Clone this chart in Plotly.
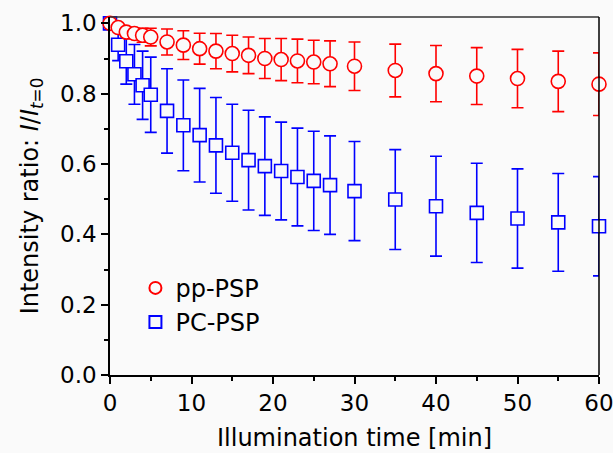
import plotly.graph_objects as go

t_vals = [0, 1, 2, 3, 4, 5, 7, 9, 11, 13, 15, 17, 19, 21, 23, 25, 27, 30, 35, 40, 45, 50, 55, 60]

pp_ratio = [1.000, 0.988, 0.975, 0.971, 0.966, 0.961, 0.947, 0.938, 0.928, 0.921, 0.914, 0.909,
            0.900, 0.897, 0.893, 0.890, 0.885, 0.878, 0.866, 0.857, 0.850, 0.843, 0.835, 0.827]
pp_err = [0.000, 0.006, 0.010, 0.015, 0.020, 0.025, 0.037, 0.041, 0.044, 0.050, 0.052, 0.052,
          0.057, 0.060, 0.062, 0.062, 0.065, 0.069, 0.075, 0.080, 0.081, 0.083, 0.086, 0.089]

pc_ratio = [1.000, 0.939, 0.892, 0.855, 0.824, 0.797, 0.751, 0.710, 0.682, 0.653, 0.632, 0.611,
            0.594, 0.580, 0.563, 0.552, 0.540, 0.523, 0.499, 0.480, 0.461, 0.445, 0.434, 0.423]
pc_err = [0.000, 0.045, 0.065, 0.085, 0.097, 0.107, 0.120, 0.129, 0.133, 0.136, 0.138, 0.142,
          0.140, 0.139, 0.139, 0.141, 0.140, 0.141, 0.142, 0.142, 0.141, 0.141, 0.139, 0.141]

BG = "#fafafa"
FONT = "DejaVu Sans"

fig = go.Figure()
fig.add_trace(go.Scatter(
    x=t_vals, y=pc_ratio, mode="markers", name="PC-PSP", legendrank=2,
    marker=dict(symbol="square", size=13, color=BG, line=dict(color="#0000ff", width=1.6)),
    error_y=dict(type="data", array=pc_err, visible=True, color="#0000ff", thickness=1.6, width=6),
    cliponaxis=False,
))
fig.add_trace(go.Scatter(
    x=t_vals, y=pp_ratio, mode="markers", name="pp-PSP", legendrank=1,
    marker=dict(symbol="circle", size=14, color=BG, line=dict(color="#ff0000", width=1.6)),
    error_y=dict(type="data", array=pp_err, visible=True, color="#ff0000", thickness=1.6, width=6),
    cliponaxis=False,
))

fig.update_layout(
    width=613, height=453,
    margin=dict(l=110, r=14, t=17, b=78, autoexpand=False),
    paper_bgcolor=BG, plot_bgcolor=BG,
    font=dict(family=FONT, size=21, color="black"),
    showlegend=True,
    legend=dict(x=0.052, y=0.305, xanchor="left", yanchor="top", bgcolor="rgba(0,0,0,0)",
                font=dict(size=24), itemsizing="constant", tracegroupgap=0),
    xaxis=dict(
        range=[0, 60], tick0=0, dtick=10, ticks="outside", ticklen=7, tickwidth=1.5,
        tickcolor="black", showline=True, linecolor="black", linewidth=1.5, mirror=False,
        showgrid=False, zeroline=False, tickfont=dict(size=23), ticklabeloverflow="allow",
        automargin=False,
        minor=dict(dtick=5, ticks="outside", ticklen=4, tickwidth=1.5, tickcolor="black"),
        title=dict(text="Illumination time [min]", standoff=14, font=dict(size=24)),
    ),
    yaxis=dict(
        range=[0, 1.018], tick0=0, dtick=0.2, tickformat=".1f", ticks="outside", ticklen=7,
        tickwidth=1.5, tickcolor="black", showline=True, linecolor="black", linewidth=1.5,
        showgrid=False, zeroline=False, tickfont=dict(size=23), automargin=False,
        minor=dict(dtick=0.1, ticks="outside", ticklen=4, tickwidth=1.5, tickcolor="black"),
        title=dict(text="Intensity ratio: <i>I</i>/<i>I</i><sub><i>t</i>=0</sub>", standoff=15,
                   font=dict(size=24)),
    ),
    shapes=[
        dict(type="line", xref="paper", yref="paper", x0=0, x1=1, y0=1, y1=1,
             line=dict(color="#333333", width=1.5)),
        dict(type="line", xref="paper", yref="paper", x0=1, x1=1, y0=0, y1=1,
             line=dict(color="black", width=1.5)),
    ],
)

fig.write_html("out.html")
